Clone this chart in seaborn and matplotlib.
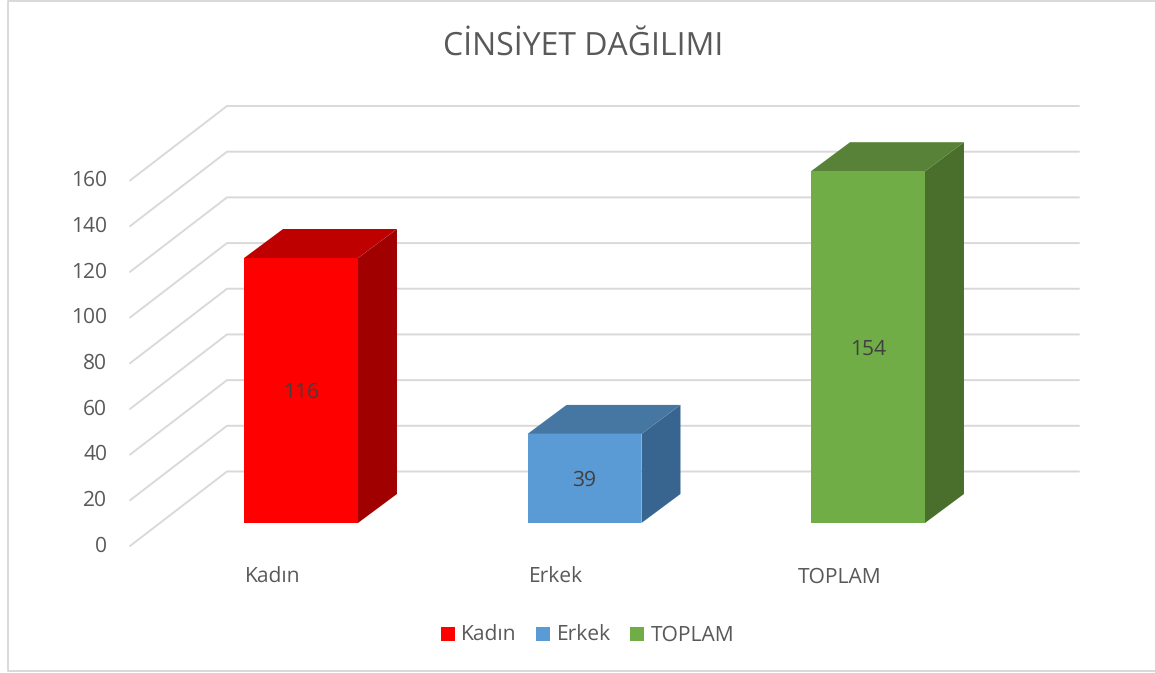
import matplotlib
matplotlib.use("Agg")
import matplotlib.pyplot as plt
import matplotlib.patches as mpatches
from matplotlib.transforms import Affine2D, IdentityTransform
import pandas as pd
import seaborn as sns

categories = ["Kadın", "Erkek", "TOPLAM"]
values = [116, 39, 154]
front_colors = ["#FF0000", "#5B9BD5", "#70AD47"]
top_colors = ["#BE0000", "#4676A2", "#588237"]
side_colors = ["#A00000", "#38658F", "#4A6E2B"]
y_ticks = [0, 20, 40, 60, 80, 100, 120, 140, 160]
title_text = "CİNSİYET DAĞILIMI"

W, H = 1155, 673
TEXT = "#595959"
GRID = "#D9D9D9"
BAR_DEPTH = (39, 29)

sns.set_theme(style="white")
plt.rcParams["font.family"] = ["Open Sans", "DejaVu Sans"]
plt.rcParams["text.hinting"] = "no_hinting"
plt.rcParams["text.hinting_factor"] = 1

fig = plt.figure(figsize=(W / 100, H / 100), dpi=100, facecolor="white")
ax = fig.add_axes([159.25 / W, (H - 523) / H, (1009.75 - 159.25) / W, 365.5 / H])
ax.patch.set_alpha(0)

df = pd.DataFrame({"cat": categories, "val": values})
sns.barplot(data=df, x="cat", y="val", hue="cat", palette=front_colors,
            hue_order=categories, order=categories, dodge=False, width=0.402,
            saturation=1, legend=True, ax=ax, zorder=5, linewidth=0)
ax.set_xlim(-0.5, 2.5)
ax.set_ylim(0, 160)
ax.set_xlabel("")
ax.set_ylabel("")
for s in ax.spines.values():
    s.set_visible(False)

# chart frame: open on the right, as in the reference
fig.add_artist(plt.Line2D([1155 / W, 7.5 / W, 7.5 / W, 1155 / W],
                          [(H - 0.5) / H, (H - 0.5) / H, (H - 671) / H, (H - 671) / H],
                          transform=fig.transFigure, color=GRID, lw=1.4))

# gridlines: wall plus receding diagonals
identity = IdentityTransform()
for t in y_ticks:
    _, yd = ax.transData.transform((0, t))
    ax.add_line(plt.Line2D([130, 227, 1079], [yd - 23, yd + 51.5, yd + 51.5],
                           transform=identity, color=GRID, lw=1.4, zorder=1, clip_on=False))

# 3-D faces of each bar
bars = [p for c in ax.containers for p in c if p.get_height() > 0]
bars.sort(key=lambda p: p.get_x())
dx, dy = BAR_DEPTH
for bar, tc, sc in zip(bars, top_colors, side_colors):
    x0, y0 = ax.transData.transform((bar.get_x(), 0))
    x1, y1 = ax.transData.transform((bar.get_x() + bar.get_width(), bar.get_height()))
    ax.add_patch(mpatches.Polygon([(x0, y1), (x1, y1), (x1 + dx, y1 + dy), (x0 + dx, y1 + dy)],
                                  closed=True, transform=identity, fc=tc, ec="none", zorder=4, clip_on=False))
    ax.add_patch(mpatches.Polygon([(x1, y0), (x1 + dx, y0 + dy), (x1 + dx, y1 + dy), (x1, y1)],
                                  closed=True, transform=identity, fc=sc, ec="none", zorder=4, clip_on=False))

for c in ax.containers:
    labels = [f"{p.get_height():.0f}" if p.get_height() > 0 else "" for p in c]
    for ann in ax.bar_label(c, labels=labels, label_type="center", color="#404040", fontsize=15, zorder=6):
        ann.xyann = (ann.xyann[0], ann.xyann[1] - 1.5)

# tick labels
ax.set_yticks(y_ticks)
ax.set_xticks(range(len(categories)))
ax.set_xticklabels(categories)
ax.tick_params(axis="y", length=0, pad=37.5, labelsize=15, labelcolor=TEXT)
ax.tick_params(axis="x", length=0, pad=31.7, labelsize=15, labelcolor=TEXT)
for lab in ax.get_yticklabels():
    lab.set_transform(lab.get_transform() + Affine2D().translate(0, -20.5))
for lab in ax.get_xticklabels():
    lab.set_transform(lab.get_transform() + Affine2D().translate(-28, 0))

fig.text(583 / W, (H - 46) / H, title_text, ha="center", va="center", fontsize=23.2, color=TEXT)

handles, labs = ax.get_legend_handles_labels()
ax.legend(handles, labs, ncols=3, frameon=False, loc="center",
          bbox_to_anchor=(587.5 / W, (H - 635.5) / H), bbox_transform=fig.transFigure,
          fontsize=15, labelcolor=TEXT, handlelength=0.67, handleheight=0.67,
          handletextpad=0.3, columnspacing=0.95, borderpad=0)

fig.savefig("out.png", dpi=100, facecolor="white")
